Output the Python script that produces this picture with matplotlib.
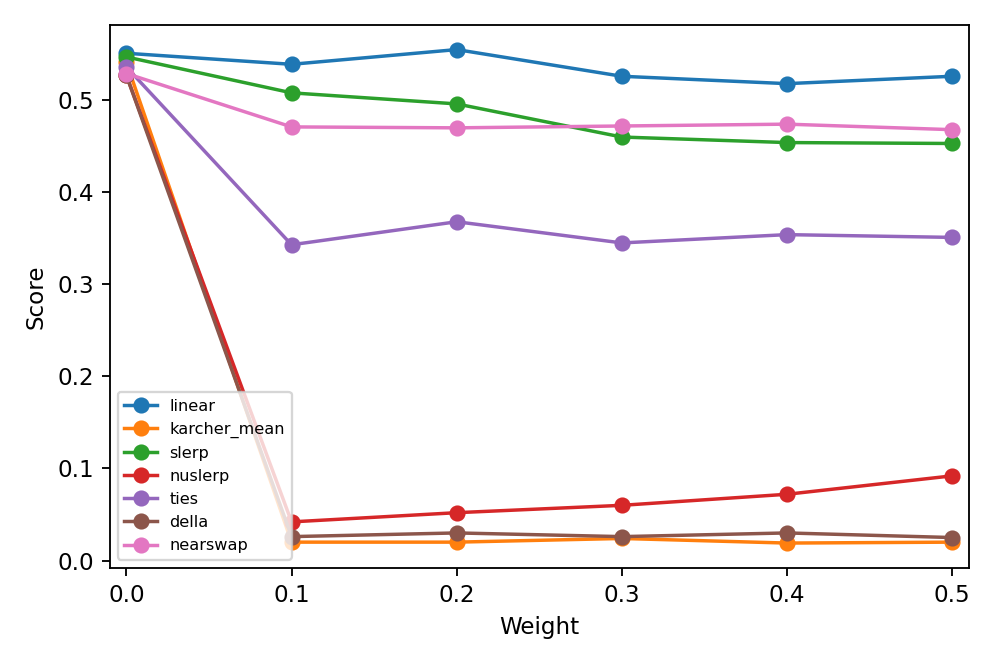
import matplotlib
matplotlib.use("Agg")
import matplotlib.pyplot as plt

# weights on the x axis
weights = [0.0, 0.1, 0.2, 0.3, 0.4, 0.5]

# score per merge method
linear = [0.551, 0.539, 0.555, 0.526, 0.518, 0.526]
karcher_mean = [0.541, 0.020, 0.020, 0.024, 0.019, 0.020]
slerp = [0.547, 0.508, 0.496, 0.460, 0.454, 0.453]
nuslerp = [0.527, 0.042, 0.052, 0.060, 0.072, 0.092]
ties = [0.536, 0.343, 0.368, 0.345, 0.354, 0.351]
della = [0.527, 0.026, 0.030, 0.026, 0.030, 0.025]
nearswap = [0.529, 0.471, 0.470, 0.472, 0.474, 0.468]

methods = ["linear", "karcher_mean", "slerp", "nuslerp", "ties", "della", "nearswap"]
scores = [linear, karcher_mean, slerp, nuslerp, ties, della, nearswap]

fig, ax = plt.subplots(figsize=(6.006, 4.0), dpi=166)
for name, s in zip(methods, scores):
    ax.plot(weights, s, marker="o", label=name)

ax.set_xlabel("Weight")
ax.set_ylabel("Score")
ax.set_xlim(-0.01, 0.51)
ax.legend(fontsize=7, loc="lower left")
fig.tight_layout()
fig.savefig("out.png")
